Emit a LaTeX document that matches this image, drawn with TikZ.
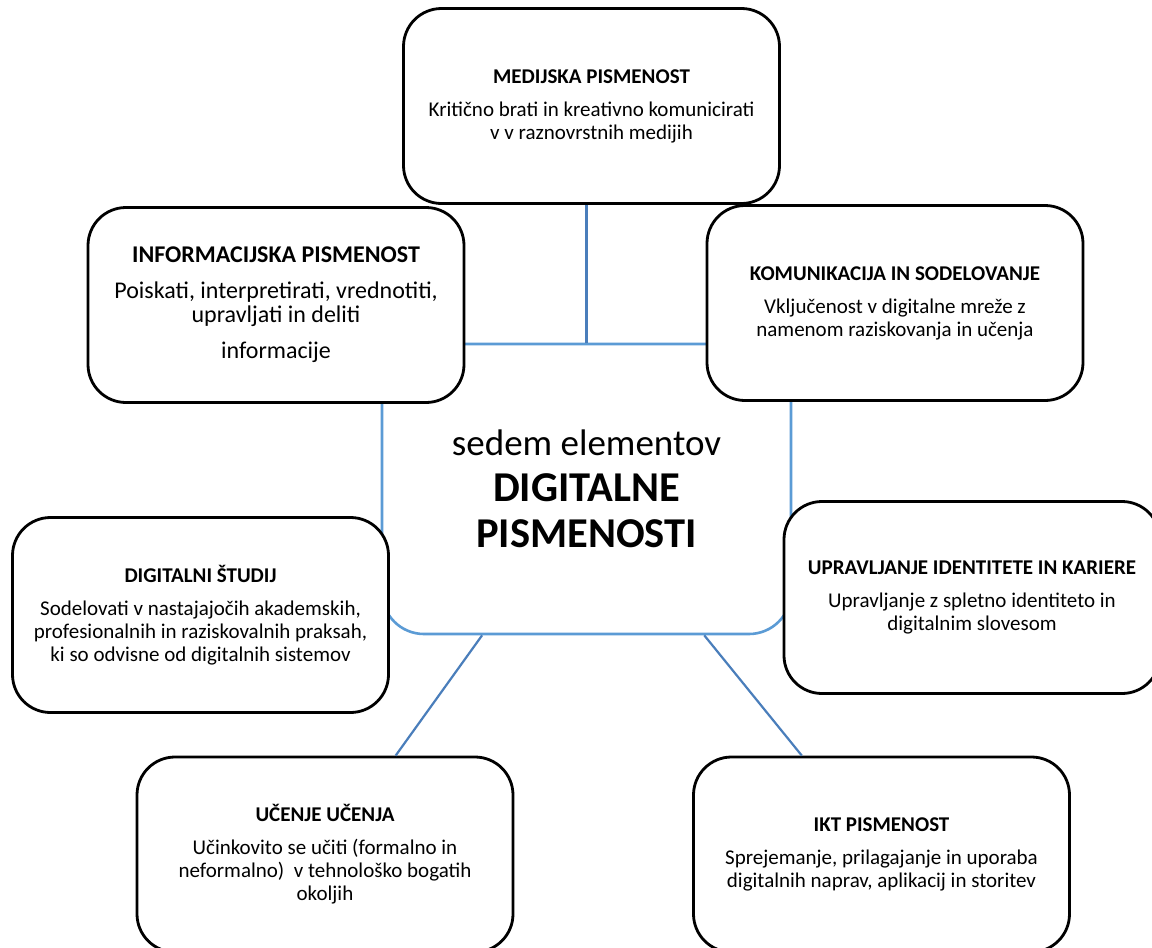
\documentclass[tikz,border=0pt]{standalone}
\usepackage{fontspec}
\setmainfont{Carlito}
\usetikzlibrary{calc}
\definecolor{hubblue}{HTML}{5B9BD5}
\definecolor{linkblue}{HTML}{4A7EBB}
\tikzset{
  element/.style={draw=black, line width=2.8pt, fill=white, rounded corners=38pt,
    minimum width=376pt, minimum height=195pt, align=center, inner sep=0pt,
    font=\fontsize{21}{23}\selectfont},
  hub/.style={draw=hubblue, line width=2.6pt, fill=white, rounded corners=42pt,
    minimum width=409pt, minimum height=290pt, align=center, inner sep=0pt,
    font=\fontsize{37}{46}\selectfont},
  link/.style={draw=linkblue, line width=2.2pt},
}
\begin{document}
\begin{tikzpicture}[x=1pt, y=-1pt]
\path[use as bounding box, clip] (0,0) rectangle (1152,948);
\fill[white] (0,0) rectangle (1152,948);

% central element
\node[hub] (cent) at (586.5,489) {sedem elementov\\
  {\fontsize{42.5}{46}\selectfont\bfseries DIGITALNE}\\
  {\fontsize{42.5}{46}\selectfont\bfseries PISMENOSTI}};

% the seven elements
\node[element] (med) at (591.5,106)
  {\textbf{MEDIJSKA PISMENOST}\\[10pt]
   Kritično brati in kreativno komunicirati\\
   v v raznovrstnih medijih};
\node[element, font=\fontsize{24}{24}\selectfont] (inf) at (276,305)
  {\textbf{INFORMACIJSKA PISMENOST}\\[12pt]
   Poiskati, interpretirati, vrednotiti,\\
   upravljati in deliti\\[12pt]
   informacije};
\node[element] (kom) at (895,303)
  {\textbf{KOMUNIKACIJA IN SODELOVANJE}\\[10pt]
   Vključenost v digitalne mreže z\\
   namenom raziskovanja in učenja};
\node[element] (dig) at (200.5,615)
  {\textbf{DIGITALNI ŠTUDIJ}\\[10pt]
   Sodelovati v nastajajočih akademskih,\\
   profesionalnih in raziskovalnih praksah,\\
   ki so odvisne od digitalnih sistemov};
\node[element, minimum height=192pt] (upr) at (972,597.5)
  {\textbf{UPRAVLJANJE IDENTITETE IN KARIERE}\\[10pt]
   Upravljanje z spletno identiteto in\\
   digitalnim slovesom};
\node[element] (uce) at (325,854.5)
  {\textbf{UČENJE UČENJA}\\[10pt]
   Učinkovito se učiti (formalno in\\
   neformalno)\ \ v tehnološko bogatih\\
   okoljih};
\node[element] (ikt) at (881.5,854.5)
  {\textbf{IKT PISMENOST}\\[10pt]
   Sprejemanje, prilagajanje in uporaba\\
   digitalnih naprav, aplikacij in storitev};

% connectors
\draw[link] (cent.north) -- (cent.north |- med.south);
\draw[link] (cent) -- (uce);
\draw[link] (cent) -- (ikt);
\end{tikzpicture}
\end{document}
